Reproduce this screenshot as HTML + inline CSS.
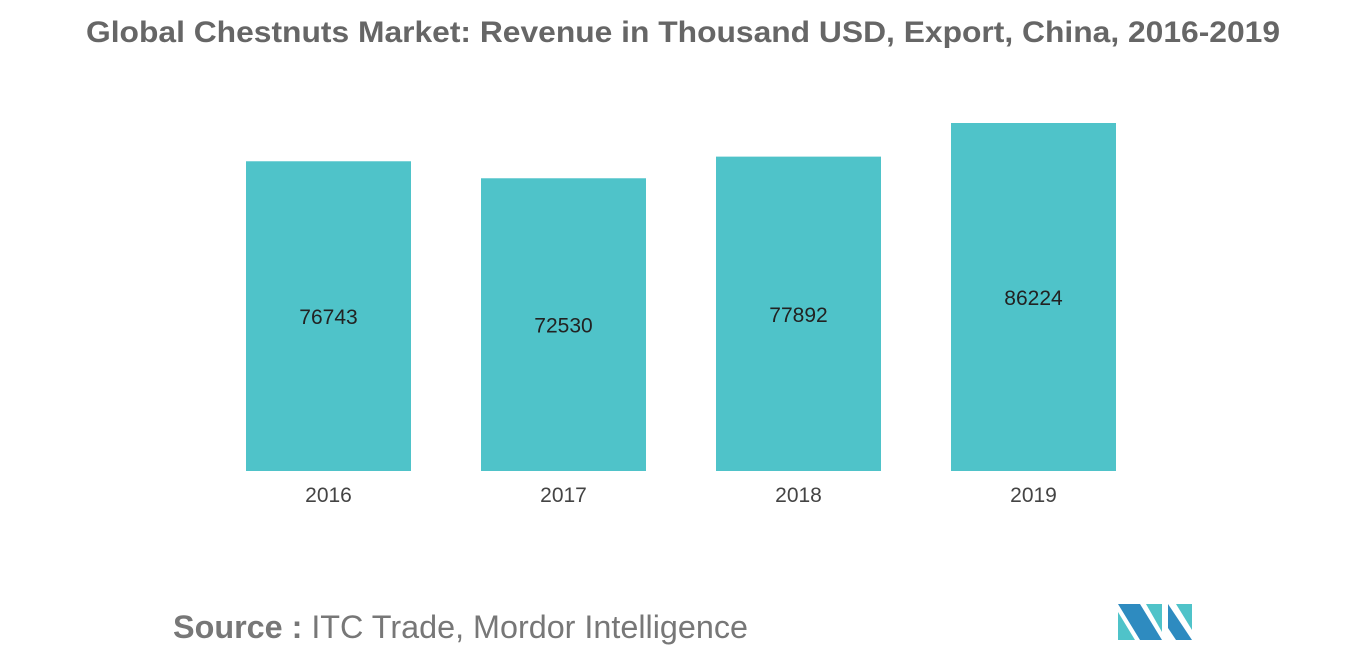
<!DOCTYPE html>
<html><head><meta charset="utf-8"><style>
body{margin:0;width:1366px;height:655px;background:#fff;overflow:hidden;font-family:"Liberation Sans",sans-serif}
</style></head><body>
<svg width="1366" height="655">
<text x="86" y="42" textLength="1194" lengthAdjust="spacingAndGlyphs" font-size="30" font-weight="bold" fill="#666">Global Chestnuts Market: Revenue in Thousand USD, Export, China, 2016-2019</text>
<g id="bars"></g>
<text x="173" y="638" textLength="575" lengthAdjust="spacingAndGlyphs" font-size="32" fill="#777"><tspan font-weight="bold">Source :</tspan> ITC Trade, Mordor Intelligence</text>
<g>
<polygon points="1118,604 1140,604 1162,640 1140,640" fill="#2e8bc0"/>
<polygon points="1118,612 1118,640 1135,640" fill="#4fc3c9"/>
<polygon points="1146,604 1162,604 1162,632" fill="#4fc3c9"/>
<polygon points="1168,604 1192,640 1176,640 1168,628" fill="#2e8bc0"/>
<polygon points="1176,604 1192,604 1192,630" fill="#4fc3c9"/>
</g>
</svg>
<script>
const categories=["2016","2017","2018","2019"];
const values=[76743,72530,77892,86224];
const baseY=471, pxPerUnit=348/86224, x0=246, step=235, bw=165;
function yScale(v){return baseY-v*pxPerUnit;}
function xScale(i){return x0+i*step;}
const g=document.getElementById('bars');
const ns="http://www.w3.org/2000/svg";
categories.forEach((c,i)=>{
  const r=document.createElementNS(ns,'rect');
  
  
  const y=yScale(values[i]);
  r.setAttribute('x',xScale(i));r.setAttribute('y',y);
  r.setAttribute('width',bw);r.setAttribute('height',baseY-y);
  r.setAttribute('fill','#4fc3c9');
  g.appendChild(r);
  const t=document.createElementNS(ns,'text');
  
  
  t.setAttribute('x',xScale(i)+bw/2);t.setAttribute('y',(y+baseY)/2+8);
  t.setAttribute('text-anchor','middle');t.setAttribute('font-size','21');t.setAttribute('fill','#222');
  t.textContent=values[i];g.appendChild(t);
  const a=document.createElementNS(ns,'text');
  
  
  a.setAttribute('x',xScale(i)+bw/2);a.setAttribute('y',502);
  a.setAttribute('text-anchor','middle');a.setAttribute('font-size','21');a.setAttribute('fill','#444');
  a.textContent=c;g.appendChild(a);
});
</script>
</body></html>
